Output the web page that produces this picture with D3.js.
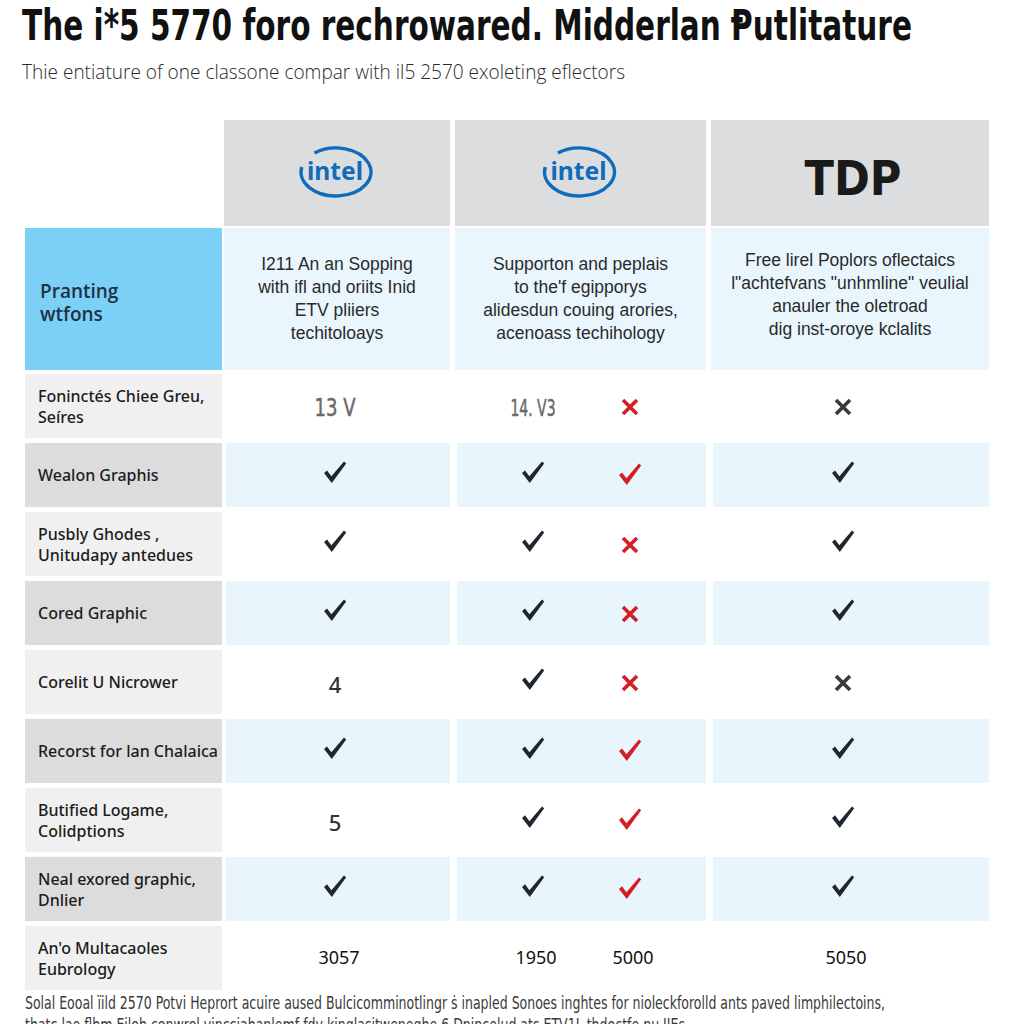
<!DOCTYPE html>
<html><head><meta charset="utf-8">
<script src="https://cdn.jsdelivr.net/npm/d3@7"></script>
<style>body{margin:0;background:#fff}svg{display:block}</style>
</head><body>
<svg id="c" width="1024" height="1024"></svg>
<script>
// ---------- data ----------
const titleText = "The i*5 5770 foro rechrowared. Midderlan Ᵽutlitature";
const subtitleText = "Thie entiature of one classone compar with il5 2570 exoleting eflectors";
const footerLines = [
  "Solal Eooal ïild 2570 Potvi Heprort acuire aused Bulcicomminotlingr ṡ inapled Sonoes inghtes for nioleckforolld ants paved limphilectoins,",
  "thatc lae flhm Eiloh conwrol vincciahanlemf fdy kinglasitweneghe 6 Dnincelud ats ETV1L thdoctfe nu IIEs"
];
const columnKeys = ["c1", "c2", "c3"];
const columnHeaders = ["intel", "intel", "TDP"];
const headerDescriptions = [
  ["I211 An an Sopping", "with ifl and oriits Inid", "ETV pliiers", "techitoloays"],
  ["Supporton and peplais", "to the'f egipporys", "alidesdun couing arories,", "acenoass techihology"],
  ["Free lirel Poplors oflectaics", "l\"achtefvans \"unhmline\" veulial", "anauler the oletroad", "dig inst-oroye kclalits"]
];
const cornerLabel = ["Pranting", "wtfons"];
const rowLabels = [
  ["Foninctés Chiee Greu,", "Seíres"],
  ["Wealon Graphis"],
  ["Pusbly Ghodes ,", "Unitudapy antedues"],
  ["Cored Graphic"],
  ["Corelit U Nicrower"],
  ["Recorst for lan Chalaica"],
  ["Butified Logame,", "Colidptions"],
  ["Neal exored graphic,", "Dnlier"],
  ["An'o Multacaoles", "Eubrology"]
];
const col1Values  = ["13 V", "check", "check", "check", "4", "check", "5", "check", "3057"];
const col2Values  = ["14. V3", "check", "check", "check", "check", "check", "check", "check", "1950"];
const col2Marks   = ["cross", "check", "cross", "cross", "cross", "check", "check", "check", "5000"];
const col3Values  = ["cross", "check", "check", "check", "cross", "check", "check", "check", "5050"];

// ---------- layout ----------
const svg = d3.select("#c");
const colX = d3.scaleOrdinal().domain(["label", ...columnKeys]).range([25, 224, 455, 711]);
const colW = d3.scaleOrdinal().domain(["label", ...columnKeys]).range([197, 226, 251, 278]);
const slotX = d3.scaleOrdinal().domain(["c1", "c2a", "c2b", "c3"]).range([335, 533, 630, 843]);
const rowY = d3.scaleBand().domain(d3.range(rowLabels.length)).range([374, 990]).paddingInner(0.07);
const header = {top: 120, h: 106};
const desc = {top: 228, h: 142};

const C = {
  headerGray: "#dcdddf", descBlue: "#e9f6fd", corner: "#7ccff5",
  labelLight: "#f0f0f0", labelDark: "#dcdcdc", rowBlue: "#e8f5fc",
  ink: "#1f2630", red: "#d41e25", intel: "#0f6cbd", crossDark: "#3a3a3a"
};
const condensed = "'Liberation Sans Narrow','DejaVu Sans Condensed','Roboto Condensed','Arial Narrow',sans-serif";

// ---------- title ----------
svg.append("text").attr("x", 22).attr("y", 40)
  .attr("font-family", condensed).attr("font-weight", 700).attr("font-size", 42)
  .attr("font-stretch", "condensed").attr("fill", "#111")
  .attr("textLength", 890).attr("lengthAdjust", "spacingAndGlyphs").text(titleText);
svg.append("text").attr("x", 22).attr("y", 79)
  .attr("font-family", "'Open Sans','Noto Sans',sans-serif").attr("font-weight", 300).attr("font-size", 21)
  .attr("fill", "#2a2a2a")
  .attr("textLength", 603).attr("lengthAdjust", "spacingAndGlyphs").text(subtitleText);

// ---------- header row ----------
const hdr = svg.append("g");
columnKeys.forEach((k, i) => {
  hdr.append("rect").attr("x", colX(k)).attr("y", header.top).attr("width", colW(k)).attr("height", header.h)
    .attr("fill", C.headerGray);
  const cx = colX(k) + colW(k) / 2 + (i === 2 ? 3 : 0), cy = header.top + 53;
  if (columnHeaders[i] === "intel") {
    const g = hdr.append("g").attr("transform", `translate(${cx - 1},${cy - 1})`);
    const rx = 35, ry = 24;
    const a0 = 168 * Math.PI / 180, a1 = 128 * Math.PI / 180;
    const p0 = [rx * Math.cos(a0), -ry * Math.sin(a0)], p1 = [rx * Math.cos(a1), -ry * Math.sin(a1)];
    g.append("path").attr("d", `M${p0[0]},${p0[1]} A${rx},${ry} 0 1 0 ${p1[0]},${p1[1]}`)
      .attr("fill", "none").attr("stroke", C.intel).attr("stroke-width", 3.4);
    g.append("text").attr("x", -1).attr("y", 8).attr("text-anchor", "middle")
      .attr("font-family", "'Noto Sans','Open Sans',sans-serif").attr("font-weight", 700).attr("font-size", 25)
      .attr("fill", C.intel).attr("textLength", 56).attr("lengthAdjust", "spacingAndGlyphs").text("intel");
    g.append("text").attr("x", 27).attr("y", -7).attr("font-family", "'Noto Sans',sans-serif")
      .attr("font-size", 8).attr("fill", C.intel).text("'");
  } else {
    hdr.append("text").attr("x", cx).attr("y", header.top + 75).attr("text-anchor", "middle")
      .attr("font-family", condensed).attr("font-weight", 700).attr("font-size", 48)
      .attr("font-stretch", "condensed").attr("fill", "#1a1a1a").text(columnHeaders[i]);
  }
});

// ---------- description row ----------
const dg = svg.append("g");
dg.append("rect").attr("x", colX("label")).attr("y", desc.top).attr("width", colW("label")).attr("height", desc.h).attr("fill", C.corner);
dg.selectAll("text.corner").data(cornerLabel).join("text").attr("class", "corner")
  .attr("x", 40).attr("y", (d, i) => 298 + i * 23)
  .attr("font-family", "'Open Sans','Noto Sans',sans-serif").attr("font-weight", 600).attr("font-size", 19)
  .attr("fill", "#1c3347").text(d => d);
columnKeys.forEach((k, i) => {
  dg.append("rect").attr("x", colX(k)).attr("y", desc.top).attr("width", colW(k)).attr("height", desc.h).attr("fill", C.descBlue);
  const base = i === 2 ? 266 : 270;
  dg.selectAll(null).data(headerDescriptions[i]).join("text")
    .attr("x", colX(k) + colW(k) / 2).attr("y", (d, j) => base + j * 23).attr("text-anchor", "middle")
    .attr("font-family", "'Liberation Sans','Noto Sans',sans-serif").attr("font-size", 17.5)
    .attr("fill", "#2a2a2a").text(d => d);
});

// ---------- data rows ----------
const rows = svg.append("g").selectAll("g").data(rowLabels).join("g")
  .attr("transform", (d, i) => `translate(0,${rowY(i)})`);
const bw = rowY.bandwidth();
rows.append("rect").attr("x", colX("label")).attr("width", colW("label")).attr("height", bw)
  .attr("fill", (d, i) => i % 2 ? C.labelDark : C.labelLight);
rows.each(function (d, i) {
  if (i % 2 === 1) {
    columnKeys.forEach(k => {
      d3.select(this).append("rect").attr("x", colX(k) + 2).attr("width", colW(k) - 2).attr("height", bw).attr("fill", C.rowBlue);
    });
  }
});
rows.each(function (lines, i) {
  const g = d3.select(this), mid = bw / 2;
  const ys = lines.length === 1 ? [mid + 6] : [mid - 4, mid + 17];
  g.selectAll("text.lbl").data(lines).join("text").attr("class", "lbl")
    .attr("x", 38).attr("y", (t, j) => ys[j])
    .attr("font-family", "'Noto Sans','Open Sans',sans-serif").attr("font-weight", 500).attr("font-size", 16)
    .attr("fill", "#1c1c1c").text(t => t);
});

const checkPath = "M-11,0 L-8,-2.6 L-3.6,3.2 L9,-11.5 L11.2,-9.6 L-3.2,10 Z";
const crossPath = "M-7,-7 L7,7 M7,-7 L-7,7";
function drawCell(g, slot, value, i, redMark) {
  const x = slotX(slot), mid = bw / 2;
  if (value === "check") {
    g.append("path").attr("d", checkPath).attr("transform", `translate(${x},${mid - (redMark ? 0 : 2)})`)
      .attr("fill", redMark ? C.red : C.ink);
  } else if (value === "cross") {
    g.append("path").attr("d", crossPath).attr("transform", `translate(${x},${mid + 1})`)
      .attr("fill", "none").attr("stroke", redMark ? C.red : C.crossDark).attr("stroke-width", 3.6);
  } else if (i === 0) {
    g.append("text").attr("x", x).attr("y", mid + 10).attr("text-anchor", "middle")
      .attr("font-family", condensed).attr("font-weight", 400).attr("font-size", slot === "c1" ? 25 : 23)
      .attr("font-stretch", "condensed").attr("fill", "#6a6a6a").attr("stroke", "#6a6a6a").attr("stroke-width", 0.5)
      .attr("textLength", slot === "c1" ? 41 : 45).attr("lengthAdjust", "spacingAndGlyphs").text(value);
  } else if (i === rowLabels.length - 1) {
    g.append("text").attr("x", x + (slot === "c1" ? 4 : 3)).attr("y", mid + 6).attr("text-anchor", "middle")
      .attr("font-family", "'Noto Sans','Open Sans',sans-serif").attr("font-size", 18)
      .attr("fill", "#111").text(value);
  } else {
    g.append("text").attr("x", x).attr("y", mid + 11).attr("text-anchor", "middle")
      .attr("font-family", "'Noto Sans','Open Sans',sans-serif").attr("font-weight", 500).attr("font-size", 22)
      .attr("fill", "#333").text(value);
  }
}
rows.each(function (d, i) {
  const g = d3.select(this);
  drawCell(g, "c1", col1Values[i], i, false);
  drawCell(g, "c2a", col2Values[i], i, false);
  drawCell(g, "c2b", col2Marks[i], i, true);
  drawCell(g, "c3", col3Values[i], i, false);
});

// ---------- footer ----------
svg.selectAll("text.foot").data(footerLines).join("text").attr("class", "foot")
  .attr("x", 25).attr("y", (d, i) => 1009 + i * 22)
  .attr("font-family", condensed).attr("font-size", 17).attr("font-stretch", "condensed").attr("fill", "#3a3a3a")
  .attr("textLength", (d, i) => i === 0 ? 860 : 660).attr("lengthAdjust", "spacingAndGlyphs").text(d => d);
</script>
</body></html>
